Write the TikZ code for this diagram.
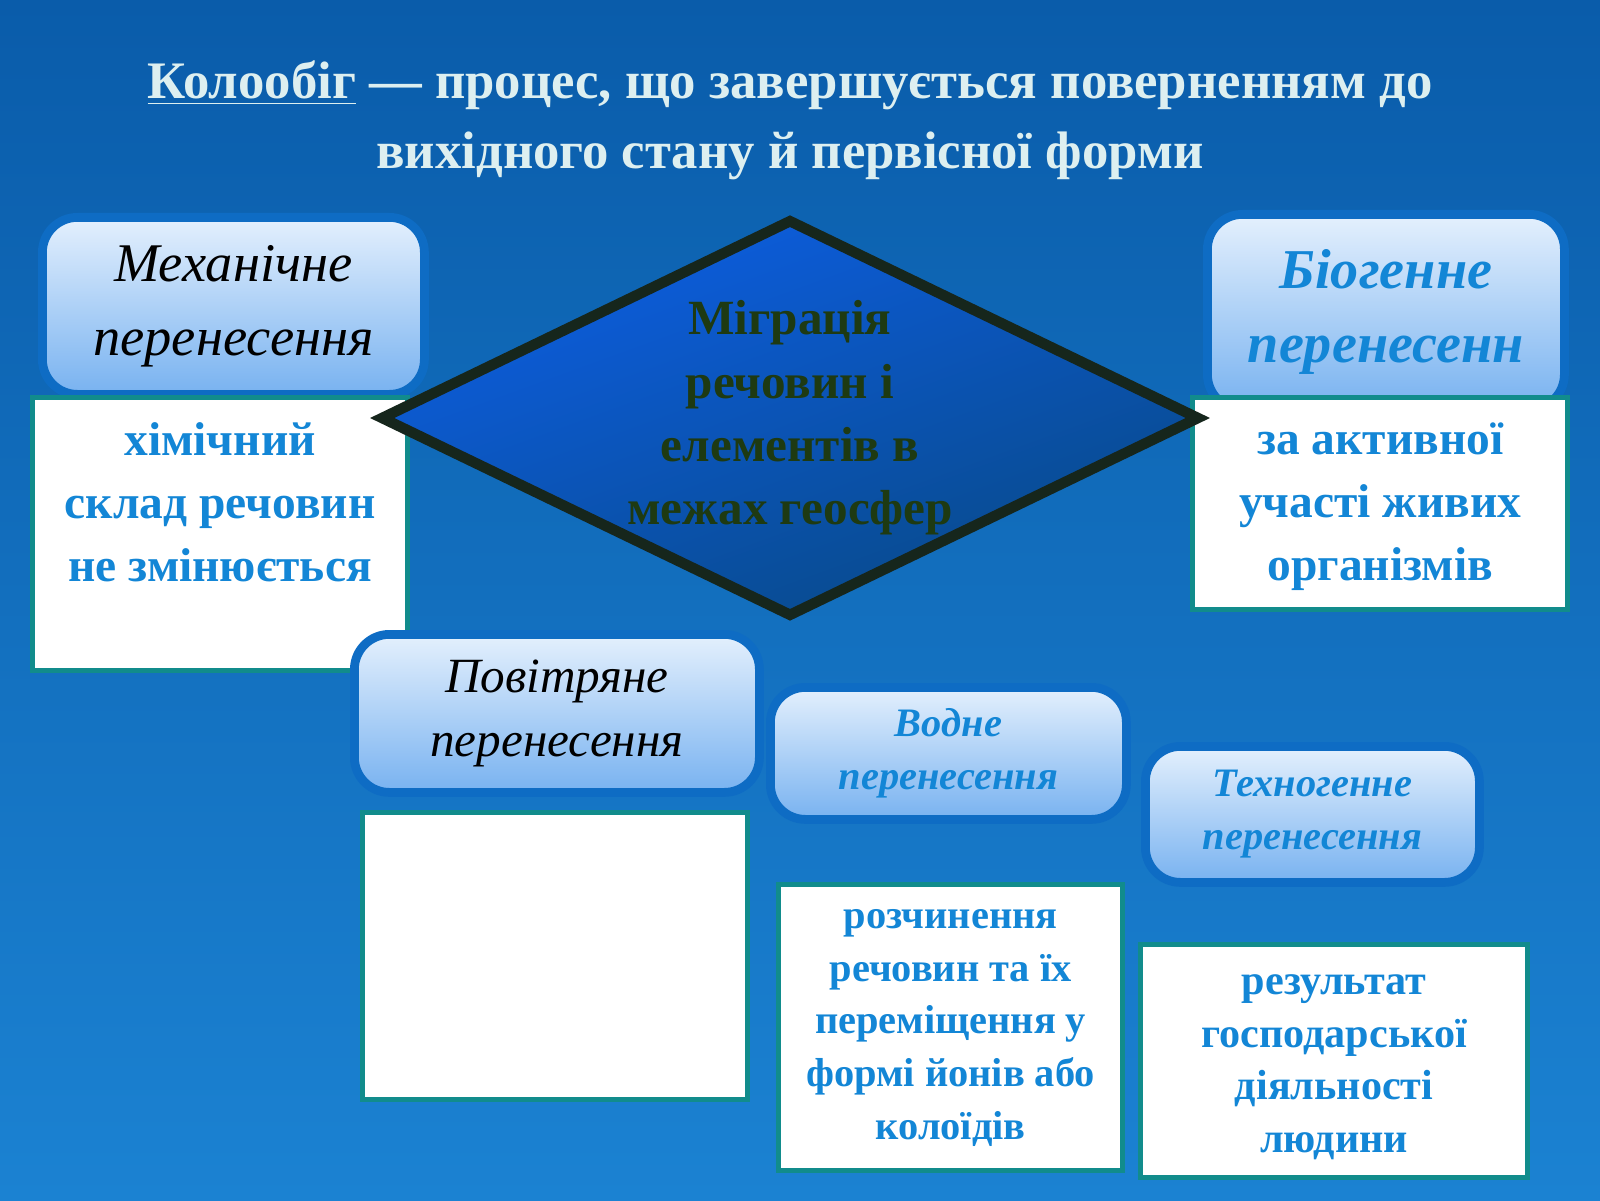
\documentclass[tikz,border=0pt]{standalone}
\usepackage{fontspec}
\setmainfont{Liberation Serif}
\usepackage{tikz}
\usetikzlibrary{shapes.geometric}
\definecolor{bgtop}{HTML}{0A5CAA}
\definecolor{bgbot}{HTML}{1B82D2}
\definecolor{titlecol}{HTML}{DDEFF0}
\definecolor{boxrim}{HTML}{0E6CC4}
\definecolor{boxtop}{HTML}{E4F0FD}
\definecolor{boxbot}{HTML}{78B2F0}
\definecolor{textblue}{HTML}{1386D6}
\definecolor{tealrim}{HTML}{118C8C}
\definecolor{diamrim}{HTML}{16261C}
\definecolor{diamtext}{HTML}{1E3A12}
\begin{document}
\begin{tikzpicture}[
	kind/.style={draw=boxrim, line width=2.5pt, rounded corners=0.35cm, top color=boxtop, bottom color=boxbot, inner sep=0pt, align=center},
	note/.style={draw=tealrim, line width=1.5pt, fill=white, inner sep=0pt},
	notetext/.style={text=textblue, font=\bfseries\fontsize{13.5}{18}\selectfont, align=center, anchor=north}
	]
	% background
	\fill [top color=bgtop, bottom color=bgbot] (0,0) rectangle (16,12);
	\useasboundingbox (0,0) rectangle (16,12);

	% title
	\node [text=titlecol, font=\bfseries\fontsize{15}{20}\selectfont, align=center] (title) at (7.9,10.8)
		{\underline{Колообіг} — процес, що завершується поверненням до\\вихідного стану й первісної форми};

	% left column
	\node [kind, minimum width=3.82cm, minimum height=1.77cm, anchor=north west, font=\itshape\fontsize{15.5}{21}\selectfont] (mech) at (0.38,9.87)
		{Механічне\\перенесення};
	\node [note, minimum width=3.75cm, minimum height=2.73cm, anchor=north west] (mechnote) at (0.30,8.05) {};
	\node [notetext] (mechtxt) at ([yshift=-0.15cm] mechnote.north) {хімічний\\склад речовин\\не змінюється};

	% right column
	\node [kind, minimum width=3.57cm, minimum height=1.95cm, anchor=north west, text=textblue, font=\bfseries\itshape\fontsize{16}{21}\selectfont] (bio) at (12.03,9.90)
		{Біогенне\\перенесенн};
	\node [note, minimum width=3.75cm, minimum height=2.12cm, anchor=north west] (bionote) at (11.90,8.05) {};
	\node [notetext] (biotxt) at ([yshift=-0.15cm] bionote.north) {за активної\\участі живих\\організмів};

	% air
	\node [kind, minimum width=4.05cm, minimum height=1.58cm, anchor=north west, font=\itshape\fontsize{14}{18}\selectfont] (air) at (3.50,5.70)
		{Повітряне\\перенесення};
	\node [note, minimum width=3.85cm, minimum height=2.87cm, anchor=north west] (airnote) at (3.60,3.90) {};

	% water
	\node [kind, minimum width=3.56cm, minimum height=1.32cm, anchor=north west, text=textblue, font=\bfseries\itshape\fontsize{11.5}{15}\selectfont] (water) at (7.66,5.17)
		{Водне\\перенесення};
	\node [note, minimum width=3.44cm, minimum height=2.86cm, anchor=north west] (waternote) at (7.76,3.18) {};
	\node [notetext, font=\bfseries\fontsize{11.5}{15}\selectfont] (watertxt) at ([yshift=-0.15cm] waternote.north)
		{розчинення\\речовин та їх\\переміщення у\\формі йонів або\\колоїдів};

	% techno
	\node [kind, minimum width=3.34cm, minimum height=1.36cm, anchor=north west, text=textblue, font=\bfseries\itshape\fontsize{11.5}{15}\selectfont] (tech) at (11.41,4.58)
		{Техногенне\\перенесення};
	\node [note, minimum width=3.87cm, minimum height=2.33cm, anchor=north west] (technote) at (11.38,2.58) {};
	\node [notetext, font=\bfseries\fontsize{12}{15}\selectfont] (techtxt) at ([yshift=-0.2cm] technote.north)
		{результат\\господарської\\діяльності\\людини};

	% centre diamond
	\node [diamond, aspect=2.05, draw=diamrim, line width=3pt, top color=textblue!70!blue, bottom color=bgtop!80!black, shading angle=20,
		minimum width=8.2cm, minimum height=3.98cm, inner sep=0pt, text=diamtext, align=center,
		font=\bfseries\fontsize{14}{18}\selectfont] (migr) at (7.90,7.82)
		{Міграція\\речовин і\\елементів в\\межах геосфер};
\end{tikzpicture}
\end{document}
